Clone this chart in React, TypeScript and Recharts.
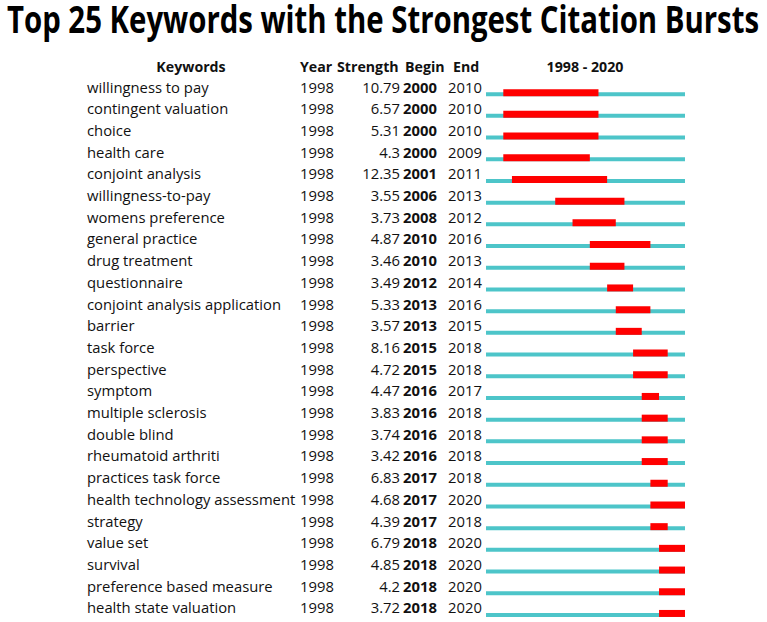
import React from "react";
import { BarChart, Bar, XAxis, YAxis } from "recharts";

const keywords = [
  "willingness to pay",
  "contingent valuation",
  "choice",
  "health care",
  "conjoint analysis",
  "willingness-to-pay",
  "womens preference",
  "general practice",
  "drug treatment",
  "questionnaire",
  "conjoint analysis application",
  "barrier",
  "task force",
  "perspective",
  "symptom",
  "multiple sclerosis",
  "double blind",
  "rheumatoid arthriti",
  "practices task force",
  "health technology assessment",
  "strategy",
  "value set",
  "survival",
  "preference based measure",
  "health state valuation",
];
const years = keywords.map(() => 1998);
const strength = [
  10.79, 6.57, 5.31, 4.3, 12.35, 3.55, 3.73, 4.87, 3.46, 3.49, 5.33, 3.57, 8.16,
  4.72, 4.47, 3.83, 3.74, 3.42, 6.83, 4.68, 4.39, 6.79, 4.85, 4.2, 3.72,
];
const begin = [
  2000, 2000, 2000, 2000, 2001, 2006, 2008, 2010, 2010, 2012, 2013, 2013, 2015,
  2015, 2016, 2016, 2016, 2016, 2017, 2017, 2017, 2018, 2018, 2018, 2018,
];
const end = [
  2010, 2010, 2010, 2009, 2011, 2013, 2012, 2016, 2013, 2014, 2016, 2015, 2018,
  2018, 2017, 2018, 2018, 2018, 2018, 2020, 2018, 2020, 2020, 2020, 2020,
];
const firstYear = 1998;
const lastYear = 2020;

// each year is one cell, so a burst covers [begin, end + 1)
const data = keywords.map((k, i) => ({
  keyword: k,
  year: years[i],
  strength: strength[i],
  begin: begin[i],
  end: end[i],
  full: [firstYear, lastYear + 1],
  burst: [begin[i], end[i] + 1],
}));

const FONT = "'Open Sans', 'Noto Sans', sans-serif";

const RowTick = (props: any) => {
  const { y, payload } = props;
  const row = data.find((d) => d.keyword === payload.value);
  if (!row) return null;
  const by = y - 1.5;
  return (
    <g fontFamily={FONT} fontSize={14.8} fill="#111">
      <text x={87} y={by}>{row.keyword}</text>
      <text x={300} y={by}>{row.year}</text>
      <text x={400} y={by} textAnchor="end">{String(row.strength)}</text>
      <text x={403} y={by} fontWeight="bold">{row.begin}</text>
      <text x={448} y={by}>{row.end}</text>
    </g>
  );
};

export default function App() {
  return (
    <div
      style={{
        position: "absolute",
        left: 0,
        top: 0,
        width: 767,
        height: 622,
        overflow: "hidden",
        background: "#fff",
      }}
    >
      <svg
        width={767}
        height={80}
        style={{ position: "absolute", left: 0, top: 0 }}
      >
        {/* title is a tall, narrow face: draw small and stretch vertically */}
        <text
          transform="translate(7,33) scale(1,1.45)"
          x={0}
          y={0}
          fontFamily={FONT}
          fontWeight="bold"
          fontSize={25.5}
          textLength={752}
          lengthAdjust="spacingAndGlyphs"
          fill="#000"
        >
          Top 25 Keywords with the Strongest Citation Bursts
        </text>
        <g fontFamily={FONT} fontWeight="bold" fontSize={14.2} fill="#111">
          <text x={191} y={72} textAnchor="middle">Keywords</text>
          <text x={300} y={72}>Year</text>
          <text x={337} y={72}>Strength</text>
          <text x={405} y={72}>Begin</text>
          <text x={453} y={72}>End</text>
          <text x={585} y={72} textAnchor="middle">1998 - 2020</text>
        </g>
      </svg>
      <div style={{ position: "absolute", left: 0, top: 0 }}>
        <BarChart
          width={767}
          height={640}
          data={data}
          layout="vertical"
          margin={{ top: 83.15, right: 82, bottom: 14.35, left: 0 }}
          barGap={-7}
        >
          <XAxis type="number" domain={[firstYear, lastYear + 1]} hide />
          <YAxis
            type="category"
            dataKey="keyword"
            width={486}
            interval={0}
            axisLine={false}
            tickLine={false}
            tick={RowTick}
          />
          <Bar dataKey="full" fill="#4dc5c9" barSize={4} isAnimationActive={false} />
          <Bar dataKey="burst" fill="#ff0000" barSize={7} isAnimationActive={false} />
        </BarChart>
      </div>
    </div>
  );
}
